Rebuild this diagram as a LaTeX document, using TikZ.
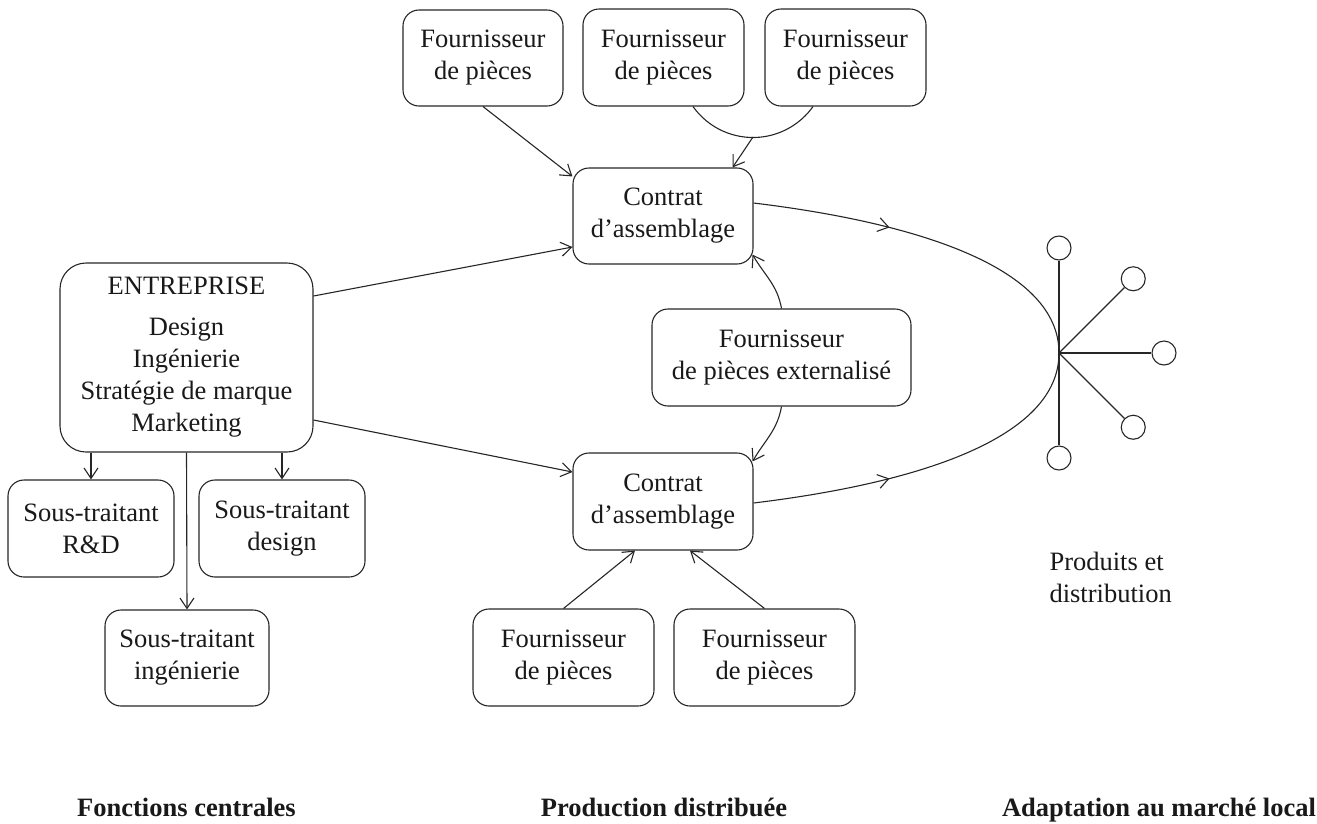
\documentclass[tikz,border=0pt]{standalone}
\usepackage{fontspec}
\setmainfont{Liberation Serif}
\usetikzlibrary{arrows.meta,decorations.markings,calc}
\begin{document}
\begin{tikzpicture}[x=1pt,y=1pt,
  line width=1.1pt, draw=black!85,
  txt/.style={font=\fontsize{26.5}{32}\selectfont, text=black!90},
  boxnode/.style={txt, draw=black!85, rounded corners=16pt, align=center, inner sep=0pt},
  arr/.style={-{Straight Barb[length=10.5pt,width=14pt]}},
  midarr/.style={postaction={decorate}, decoration={markings, mark=at position #1 with {\arrow{Straight Barb[length=10.5pt,width=14pt]}}}},
  dot/.style={circle, draw=black!85, minimum size=24pt, inner sep=0pt},
  lbl/.style={font=\fontsize{26.5}{32}\selectfont\bfseries, text=black!90}
]
\useasboundingbox (0,-823) rectangle (1317,0);

% top suppliers
\node[boxnode, minimum width=160pt, minimum height=96pt] (s1) at (483,-58) {Fournisseur\\de pièces};
\node[boxnode, minimum width=161pt, minimum height=97pt] (s2) at (663.5,-57.5) {Fournisseur\\de pièces};
\node[boxnode, minimum width=161pt, minimum height=97pt] (s3) at (845.5,-57.5) {Fournisseur\\de pièces};

% assembly contracts
\node[boxnode, minimum width=180pt, minimum height=96pt] (cA) at (663,-216) {Contrat\\d’assemblage};
\node[boxnode, minimum width=180pt, minimum height=97pt] (cB) at (663,-501.5) {Contrat\\d’assemblage};

% outsourced supplier
\node[boxnode, minimum width=259pt, minimum height=97pt] (ext) at (781.5,-357.5) {Fournisseur\\de pièces externalisé};

% company
\node[boxnode, rounded corners=26pt, minimum width=253pt, minimum height=189pt] (ent) at (186.5,-357.5)
  {ENTREPRISE\\[9pt]Design\\Ingénierie\\Stratégie de marque\\Marketing};

% subcontractors
\node[boxnode, minimum width=166pt, minimum height=97pt] (rd) at (91,-528.5) {Sous-traitant\\R\&D};
\node[boxnode, minimum width=166pt, minimum height=97pt] (des) at (282,-528.5) {Sous-traitant\\design};
\node[boxnode, minimum width=164pt, minimum height=96pt] (ing) at (187,-658) {Sous-traitant\\ingénierie};

% bottom suppliers
\node[boxnode, minimum width=181pt, minimum height=97pt] (b1) at (563.5,-657.5) {Fournisseur\\de pièces};
\node[boxnode, minimum width=181pt, minimum height=97pt] (b2) at (764.5,-657.5) {Fournisseur\\de pièces};

% star (markets)
\coordinate (hub) at (1059,-353);
\node[dot] (m1) at ($(hub)+(90:105)$) {};
\node[dot] (m2) at ($(hub)+(45:105)$) {};
\node[dot] (m3) at ($(hub)+(0:105)$) {};
\node[dot] (m4) at ($(hub)+(-45:105)$) {};
\node[dot] (m5) at ($(hub)+(-90:105)$) {};
\foreach \m in {m1,m2,m3,m4,m5} \draw (hub) -- (\m);

% texts
\node[txt, align=left, anchor=north west, inner sep=0pt] (prod) at (1049,-552) {Produits et\\distribution};
\node[lbl, anchor=base] (l1) at (186.5,-816) {Fonctions centrales};
\node[lbl, anchor=base] (l2) at (664,-816) {Production distribuée};
\node[lbl, anchor=base] (l3) at (1159,-816) {Adaptation au marché local};

% connectors: suppliers to top contract
\draw[arr] (s1.south) -- ([yshift=-9pt]cA.north west);
\draw ([xshift=29.5pt]s2.south) arc[start angle=215.4, end angle=324.6, radius=73.6];
\coordinate (arcb) at (753,-137);
\draw[arr] (arcb) -- ([xshift=-21pt]cA.north east);

% company to contracts
\draw[arr] ([yshift=61.5pt]ent.east) -- ([yshift=-31pt]cA.west);
\draw[arr] ([yshift=-62.5pt]ent.east) -- ([yshift=29.5pt]cB.west);

% company to subcontractors
\draw[arr] (ent.south -| rd.north) -- (rd.north);
\draw[arr] (ent.south -| des.north) -- (des.north);
\draw[arr] (ent.south) -- (ing.north);

% outsourced supplier to contracts
\draw[arr] (ext.north) to[out=100, in=-60] ([xshift=-1pt,yshift=10pt]cA.south east);
\draw[arr] (ext.south) to[out=-100, in=60] ([xshift=-1pt,yshift=-9pt]cB.north east);

% bottom suppliers to bottom contract
\draw[arr] (b1.north) -- ([xshift=-28pt]cB.south);
\draw[arr] (b2.north) -- ([xshift=27pt]cB.south);

% contracts to markets
\draw[midarr=0.38] ([yshift=13pt]cA.east) .. controls +(165,-20) and +(0,85) .. (hub);
\draw[midarr=0.38] ([yshift=-1.5pt]cB.east) .. controls +(165,20) and +(0,-85) .. (hub);
\end{tikzpicture}
\end{document}
